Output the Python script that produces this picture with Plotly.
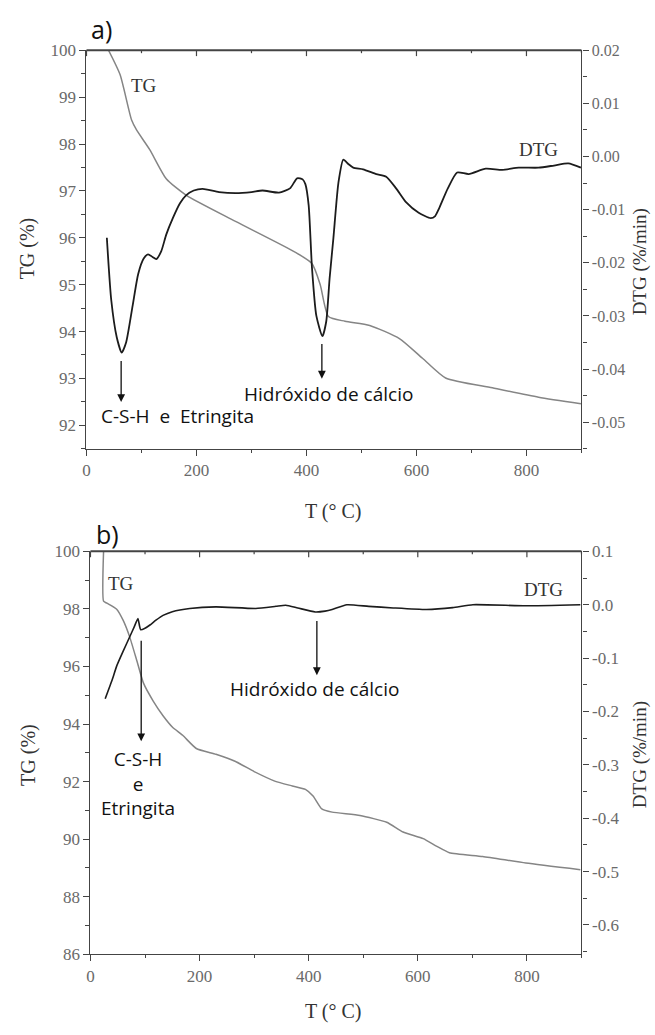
import plotly.graph_objects as go

W, H = 655, 1035

# ---------------- Data: panel a ----------------
tg_a_T = [40, 61, 82, 91, 115, 145, 181, 271, 380, 410, 425, 440, 470, 515, 569, 611, 653, 738, 822, 899]
tg_a_val = [100.0, 99.48, 98.51, 98.3, 97.88, 97.26, 96.91, 96.35, 95.69, 95.45, 95.0, 94.32, 94.22, 94.13, 93.85, 93.43, 93.01, 92.8, 92.6, 92.46]

dtg_a_T = [37, 45, 55, 64, 72, 84, 94, 104, 112, 120, 127, 136, 145, 157, 170, 181, 195, 211, 241, 271, 300, 320, 350, 370, 383, 393,
           398, 404, 410, 418, 429, 436, 442, 449, 458, 467, 476, 485, 503, 527, 545, 563, 581, 604, 626, 634, 641, 657, 674, 695,
           726, 756, 786, 822, 850, 876, 899]
dtg_a_val = [-0.0153, -0.0270, -0.0340, -0.0369, -0.0350, -0.0280, -0.0221, -0.0192, -0.0184, -0.0189, -0.0193, -0.0178, -0.0147,
             -0.0116, -0.0088, -0.0073, -0.0064, -0.0061, -0.0067, -0.0069, -0.0067, -0.0064, -0.0068, -0.0060, -0.0041, -0.0043,
             -0.0052, -0.0092, -0.0209, -0.0300, -0.0338, -0.0310, -0.0230, -0.0153, -0.0050, -0.0006, -0.0014, -0.0021, -0.0024,
             -0.0033, -0.0038, -0.0060, -0.0086, -0.0106, -0.0116, -0.0112, -0.0098, -0.0060, -0.0030, -0.0033, -0.0023, -0.0025,
             -0.0021, -0.0021, -0.0017, -0.0013, -0.0021]

# ---------------- Data: panel b ----------------
tg_b_T = [24, 24, 30, 48, 60, 72, 85, 97, 115, 133, 150, 169, 194, 230, 266, 300, 339, 370, 394, 408, 424, 443, 494, 543, 573,
          610, 635, 658, 719, 798, 898]
tg_b_val = [100.0, 98.27, 98.2, 97.99, 97.6, 97.02, 96.2, 95.43, 94.8, 94.29, 93.9, 93.61, 93.15, 92.95, 92.70, 92.35, 92.01, 91.85,
            91.73, 91.5, 91.05, 90.94, 90.82, 90.59, 90.25, 90.02, 89.75, 89.53, 89.40, 89.17, 88.94]

dtg_b_T = [27, 40, 48, 60, 72, 80, 87, 90, 92, 100, 109, 120, 133, 150, 182, 230, 303, 340, 358, 380, 412, 430, 443, 470, 510, 555,
           616, 664, 701, 798, 898]
dtg_b_val = [-0.176, -0.140, -0.115, -0.087, -0.060, -0.042, -0.026, -0.040, -0.047, -0.044, -0.038, -0.029, -0.020, -0.013, -0.007,
             -0.004, -0.007, -0.003, -0.001, -0.006, -0.0135, -0.012, -0.009, 0.000, -0.003, -0.006, -0.009, -0.0055, 0.000, -0.002, 0.000]

# ---------------- Tick labels ----------------
t_ticks = [0, 200, 400, 600, 800]
t_ticktext = ["0", "200", "400", "600", "800"]
t_minor = [100, 300, 500, 700, 900]
tg_a_ticks = [92, 93, 94, 95, 96, 97, 98, 99, 100]
tg_a_ticktext = ["92", "93", "94", "95", "96", "97", "98", "99", "100"]
dtg_a_ticks = [-0.05, -0.04, -0.03, -0.02, -0.01, 0.0, 0.01, 0.02]
dtg_a_ticktext = ["-0.05", "-0.04", "-0.03", "-0.02", "-0.01", "0.00", "0.01", "0.02"]
tg_b_ticks = [86, 88, 90, 92, 94, 96, 98, 100]
tg_b_ticktext = ["86", "88", "90", "92", "94", "96", "98", "100"]
dtg_b_ticks = [-0.6, -0.5, -0.4, -0.3, -0.2, -0.1, 0.0, 0.1]
dtg_b_ticktext = ["-0.6", "-0.5", "-0.4", "-0.3", "-0.2", "-0.1", "0.0", "0.1"]

SERIF = "Liberation Serif"
SANS = "Open Sans"
AXC = "#444444"
TICKC = "#6a6a6a"
TG_COLOR = "#858585"
DTG_COLOR = "#1c1c1c"


def px2x(px):
    return px / W


def px2y(py):
    return 1 - py / H


fig = go.Figure()
fig.add_trace(go.Scatter(x=tg_a_T, y=tg_a_val, mode="lines", line=dict(color=TG_COLOR, width=1.5, shape="spline", smoothing=0.6),
                         xaxis="x", yaxis="y", showlegend=False))
fig.add_trace(go.Scatter(x=dtg_a_T, y=dtg_a_val, mode="lines", line=dict(color=DTG_COLOR, width=1.8, shape="spline", smoothing=0.6),
                         xaxis="x", yaxis="y2", showlegend=False))
fig.add_trace(go.Scatter(x=tg_b_T, y=tg_b_val, mode="lines", line=dict(color=TG_COLOR, width=1.5, shape="spline", smoothing=0.5),
                         xaxis="x2", yaxis="y3", showlegend=False))
fig.add_trace(go.Scatter(x=dtg_b_T, y=dtg_b_val, mode="lines", line=dict(color=DTG_COLOR, width=1.6, shape="spline", smoothing=0.5),
                         xaxis="x2", yaxis="y4", showlegend=False))

dom_xa = [px2x(83), px2x(581)]
dom_xb = [px2x(87), px2x(581)]
dom_ya = [px2y(448), px2y(42)]
dom_yb = [px2y(963), px2y(552.5)]

tickfont = dict(family=SERIF, size=16, color=TICKC)
tickfont17 = dict(family=SERIF, size=17, color=TICKC)

common_x = dict(range=[0, 900], showgrid=False, zeroline=False, showline=True, linecolor=AXC, linewidth=1.3,
                tickmode="array", tickvals=t_ticks, ticktext=t_ticktext, ticks="outside", ticklen=6,
                tickcolor=AXC, tickfont=tickfont17,
                minor=dict(tickvals=t_minor, ticks="outside", ticklen=3, tickcolor=AXC))

fig.update_layout(
    width=W, height=H, margin=dict(l=0, r=0, t=0, b=0),
    paper_bgcolor="white", plot_bgcolor="white",
    xaxis=dict(domain=dom_xa, anchor="y", **common_x),
    xaxis2=dict(domain=dom_xb, anchor="y3", **common_x),
    yaxis=dict(domain=dom_ya, anchor="x", range=[91.5, 100], showgrid=False, zeroline=False, showline=True, linecolor=AXC,
               linewidth=1.3, tickmode="array", tickvals=tg_a_ticks, ticktext=tg_a_ticktext, ticks="outside", ticklen=6,
               tickcolor=AXC, tickfont=tickfont17,
               minor=dict(dtick=0.5, ticks="outside", ticklen=4, tickcolor=AXC)),
    yaxis2=dict(domain=dom_ya, anchor="x", overlaying="y", side="right", range=[-0.055, 0.02], showgrid=False,
                zeroline=False, showline=True, linecolor=AXC, linewidth=1.3, tickmode="array", tickvals=dtg_a_ticks,
                ticktext=dtg_a_ticktext, ticks="outside", ticklen=6, tickcolor=AXC, tickfont=tickfont,
                minor=dict(dtick=0.005, ticks="outside", ticklen=4, tickcolor=AXC)),
    yaxis3=dict(domain=dom_yb, anchor="x2", range=[86, 100], showgrid=False, zeroline=False, showline=True, linecolor=AXC,
                linewidth=1.3, tickmode="array", tickvals=tg_b_ticks, ticktext=tg_b_ticktext, ticks="outside", ticklen=6,
                tickcolor=AXC, tickfont=tickfont17,
                minor=dict(dtick=1, ticks="outside", ticklen=4, tickcolor=AXC)),
    yaxis4=dict(domain=dom_yb, anchor="x2", overlaying="y3", side="right", range=[-0.655, 0.1], showgrid=False,
                zeroline=False, showline=True, linecolor=AXC, linewidth=1.3, tickmode="array", tickvals=dtg_b_ticks,
                ticktext=dtg_b_ticktext, ticks="outside", ticklen=6, tickcolor=AXC, tickfont=tickfont17,
                minor=dict(dtick=0.05, ticks="outside", ticklen=4, tickcolor=AXC)),
)

# top frame line with inward ticks (as in the original), placed in paper coordinates
shapes = []
for dx, dy in [(dom_xa, dom_ya), (dom_xb, dom_yb)]:
    ytop = dy[1]
    shapes.append(dict(type="line", xref="paper", yref="paper", x0=dx[0], x1=dx[1], y0=ytop, y1=ytop,
                       line=dict(color=AXC, width=2), layer="above"))
    span = dx[1] - dx[0]
    for tl, tv in [(6, t_ticks), (3, t_minor)]:
        for t in tv:
            xp = dx[0] + span * t / 900
            shapes.append(dict(type="line", xref="paper", yref="paper", x0=xp, x1=xp, y0=ytop, y1=ytop - tl / H,
                               line=dict(color=AXC, width=1.2), layer="above"))
fig.update_layout(shapes=shapes)

ann = []
titlefont = dict(family=SERIF, size=20, color="#333333")
rtitlefont = dict(family=SERIF, size=19, color="#333333")
sansfont = dict(family=SANS, size=19, color="#111111")
curvefont = dict(family=SERIF, size=19, color="#333333")
C = dict(xanchor="center", yanchor="middle", showarrow=False)

# panel labels
ann.append(dict(text="a)", x=px2x(98), y=px2y(20), xref="paper", yref="paper",
                font=dict(family=SANS, size=25, color="#111111"), **C))
ann.append(dict(text="b)", x=px2x(104), y=px2y(535), xref="paper", yref="paper",
                font=dict(family=SANS, size=25, color="#111111"), **C))
# axis titles
for yl, yr in [(244, 258), (760, 760)]:
    ann.append(dict(text="TG (%)", x=px2x(24), y=px2y(yl), xref="paper", yref="paper", textangle=-90,
                    font=titlefont, **C))
    ann.append(dict(text="DTG (%/min)", x=px2x(640), y=px2y(yr), xref="paper", yref="paper",
                    textangle=-90, font=rtitlefont, **C))
ann.append(dict(text="T (° C)", x=px2x(332), y=px2y(512), xref="paper", yref="paper", font=titlefont, **C))
ann.append(dict(text="T (° C)", x=px2x(332), y=px2y(1021), xref="paper", yref="paper", font=titlefont, **C))

# curve labels
ann.append(dict(text="TG", x=104, y=99.25, xref="x", yref="y", font=curvefont, **C))
ann.append(dict(text="DTG", x=821, y=0.0014, xref="x", yref="y2", font=curvefont, **C))
ann.append(dict(text="TG", x=56, y=98.9, xref="x2", yref="y3", font=curvefont, **C))
ann.append(dict(text="DTG", x=831, y=98.66, xref="x2", yref="y3", font=curvefont, **C))

ARW = dict(text="", showarrow=True, arrowhead=2, arrowsize=1.2, arrowwidth=1.3, arrowcolor="#111")
# arrows panel a
ann.append(dict(x=63, y=-0.0462, ax=63, ay=-0.0382, xref="x", yref="y2", axref="x", ayref="y2", **ARW))
ann.append(dict(x=428, y=-0.0418, ax=428, ay=-0.0350, xref="x", yref="y2", axref="x", ayref="y2", **ARW))
ann.append(dict(text="C-S-H  e  Etringita", x=166, y=-0.0489, xref="x", yref="y2", font=sansfont, **C))
ann.append(dict(text="Hidróxido de cálcio", x=440, y=-0.0446, xref="x", yref="y2", font=sansfont, **C))

# arrows panel b
ann.append(dict(x=93, y=93.4, ax=93, ay=96.95, xref="x2", yref="y3", axref="x2", ayref="y3", **ARW))
ann.append(dict(x=415, y=95.7, ax=415, ay=97.63, xref="x2", yref="y3", axref="x2", ayref="y3", **ARW))
ann.append(dict(text="C-S-H<br>e<br>Etringita", x=87, y=91.95, xref="x2", yref="y3", font=sansfont,
                align="center", **C))
ann.append(dict(text="Hidróxido de cálcio", x=410, y=95.21, xref="x2", yref="y3", font=sansfont, **C))

fig.update_layout(annotations=ann)

fig.write_html("out.html")
